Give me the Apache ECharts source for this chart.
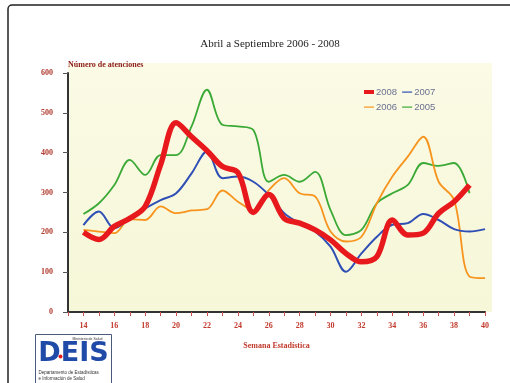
<!DOCTYPE html>
<html>
<head>
<meta charset="utf-8">
<script src="https://cdn.jsdelivr.net/npm/echarts@6/dist/echarts.min.js"></script>
<style>
  html, body { margin: 0; padding: 0; background: #fff; }
  #chart { width: 510px; height: 383px; }
</style>
</head>
<body>
<div id="chart"></div>
<script>
// Semanas estadísticas 14 a 40
const weeks = [14,15,16,17,18,19,20,21,22,23,24,25,26,27,28,29,30,31,32,33,34,35,36,37,38,39,40];

// Número de atenciones por semana y por año
const s2008 = [200,182,215,235,265,370,475,440,405,365,350,250,295,235,223,206,181,147,126,139,231,193,198,248,277,319,null];
const s2007 = [218,252,210,235,260,281,298,348,403,336,340,327,294,248,223,202,164,101,147,189,219,223,246,231,208,202,208];
const s2006 = [206,202,198,233,231,265,248,255,258,305,277,256,306,336,298,290,202,177,189,273,340,390,440,327,281,89,85];
const s2005 = [246,273,319,382,344,394,394,466,558,470,466,457,327,344,327,352,256,193,206,273,298,319,374,367,374,298,null];

const seriesNames = ['2008', '2007', '2006', '2005'];
const seriesValues = [s2008, s2007, s2006, s2005];
const seriesColors = ['#e8191c', '#2f4fb5', '#f7941d', '#3aa935'];
const seriesWidths = [5.5, 2, 1.8, 1.8];

const yTicks = [0, 100, 200, 300, 400, 500, 600];

// legend swatches: a thick block for 2008, thin strokes for the rest
const thickIcon = 'path://M0,0 M0,1.5 L10,1.5 L10,5.5 L0,5.5 Z M10,7';
const thinIcon = 'path://M0,0 M0,3 L10,3 L10,4.2 L0,4.2 Z M10,7';

const chart = echarts.init(document.getElementById('chart'));

function pairs(vals) {
  return weeks.map((w, i) => [w, vals[i]]).filter(p => p[1] !== null);
}

const series = seriesNames.map((name, i) => ({
  name: name,
  type: 'line',
  data: pairs(seriesValues[i]),
  smooth: 0.35,
  symbol: 'none',
  z: 10 - i,
  lineStyle: { color: seriesColors[i], width: seriesWidths[i] },
  itemStyle: { color: seriesColors[i] }
}));
// draw the thick 2008 line on top
series[0].z = 20;

const serif = 'Liberation Serif, DejaVu Serif, serif';

chart.setOption({
  animation: false,
  backgroundColor: '#ffffff',
  title: {
    text: 'Abril a Septiembre 2006 - 2008',
    left: 265,
    top: 34,
    textAlign: 'center',
    textStyle: { fontFamily: serif, fontSize: 11, fontWeight: 'normal', color: '#222' }
  },
  legend: {
    data: seriesNames.map((n, i) => ({ name: n, icon: i === 0 ? thickIcon : thinIcon })),
    left: 359,
    top: 82,
    width: 90,
    itemWidth: 10,
    itemHeight: 7,
    itemGap: 5,
    textStyle: { fontFamily: 'Liberation Sans, Arial, sans-serif', fontSize: 9.5, color: '#6a7090', padding: [0, 0, 0, -3] }
  },
  grid: { left: 68, right: 25, top: 73, bottom: 71, containLabel: false },
  xAxis: {
    type: 'value',
    min: 13,
    max: 40,
    interval: 1,
    name: 'Semana Estadística',
    nameLocation: 'middle',
    nameGap: 30,
    nameTextStyle: { fontFamily: serif, fontSize: 8, fontWeight: 'bold', color: '#c0392b' },
    axisLine: { lineStyle: { color: '#333', width: 2 } },
    axisTick: { lineStyle: { color: '#d05050', width: 1 }, length: 4 },
    axisLabel: {
      fontFamily: serif, fontSize: 8, fontWeight: 'bold', color: '#c0392b', margin: 10,
      formatter: v => (v >= 14 && v % 2 === 0) ? String(v) : ''
    },
    splitLine: { show: false }
  },
  yAxis: {
    type: 'value',
    min: 0,
    max: 600,
    interval: 100,
    name: 'Número de atenciones',
    nameLocation: 'end',
    nameGap: 4,
    nameTextStyle: { fontFamily: serif, fontSize: 8, fontWeight: 'bold', color: '#8b1a1a', align: 'left', padding: [0, 0, 0, 0] },
    axisLine: { show: true, lineStyle: { color: '#333', width: 2 } },
    axisTick: { show: true, length: 5, lineStyle: { color: '#555' } },
    axisLabel: {
      fontFamily: serif, fontSize: 8, fontWeight: 'bold', color: '#b03a2e', margin: 15,
      formatter: v => yTicks.includes(v) ? String(v) : ''
    },
    splitLine: { show: false }
  },
  graphic: [
    {
      type: 'rect', z: -10, silent: true,
      shape: { x: 68, y: 63, width: 424, height: 249 },
      style: {
        fill: new echarts.graphic.LinearGradient(0, 0, 0, 1, [
          { offset: 0, color: '#fbfbe6' },
          { offset: 1, color: '#f6f6d8' }
        ])
      }
    },
    {
      type: 'rect', z: 50, silent: true,
      shape: { x: 8, y: 5, width: 530, height: 400, r: 4 },
      style: { fill: null, stroke: '#222', lineWidth: 1.5 }
    },
    // logo DEIS
    {
      type: 'group', left: 35, top: 334, z: 40,
      children: [
        { type: 'rect', shape: { x: 0, y: 0, width: 76, height: 49 }, style: { fill: '#fff', stroke: '#4a5a7a', lineWidth: 1 } },
        { type: 'text', style: { x: 52, y: 3, text: 'Ministerio de Salud', fontSize: 3.5, fill: '#333', align: 'center' } },
        { type: 'text', style: { x: 38, y: 6, text: 'DEIS', fontFamily: 'DejaVu Sans, sans-serif', fontSize: 27, fontWeight: 'bold', fill: '#1f4aa8', align: 'center' } },
        { type: 'circle', shape: { cx: 25, cy: 22, r: 2 }, style: { fill: '#e8191c' } },
        { type: 'text', style: { x: 3, y: 36, text: 'Departamento de Estadísticas', fontSize: 4.5, fill: '#333' } },
        { type: 'text', style: { x: 3, y: 42, text: 'e Información de Salud', fontSize: 4.5, fill: '#333' } }
      ]
    }
  ],
  series: series
});
</script>
</body>
</html>
